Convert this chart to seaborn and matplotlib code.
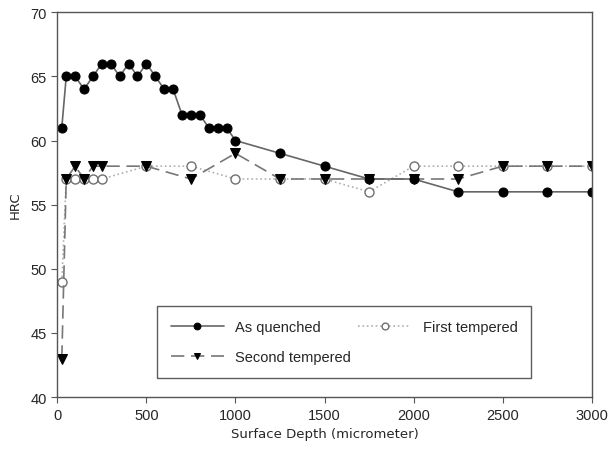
import numpy as np
import pandas as pd
import seaborn as sns
import matplotlib.pyplot as plt

sns.set_style('ticks')
plt.rcParams['font.family'] = ['Liberation Sans', 'DejaVu Sans']

# hardness readings (HRC) vs depth from surface (micrometer)
depth_aq = [25, 50, 100, 150, 200, 250, 300, 350, 400, 450, 500, 550, 600, 650, 700,
            750, 800, 850, 900, 950, 1000, 1250, 1500, 1750, 2000, 2250, 2500, 2750, 3000]
hrc_aq = [61, 65, 65, 64, 65, 66, 66, 65, 66, 65, 66, 65, 64, 64, 62,
          62, 62, 61, 61, 61, 60, 59, 58, 57, 57, 56, 56, 56, 56]

depth_t = [25, 50, 100, 150, 200, 250, 500, 750, 1000, 1250, 1500, 1750, 2000, 2250, 2500, 2750, 3000]
hrc_t1 = [49, 57, 57, 57, 57, 57, 58, 58, 57, 57, 57, 56, 58, 58, 58, 58, 58]
hrc_t2 = [43, 57, 58, 57, 58, 58, 58, 57, 59, 57, 57, 57, 57, 57, 58, 58, 58]

aq = pd.DataFrame({'depth': depth_aq, 'hrc': hrc_aq})
t1 = pd.DataFrame({'depth': depth_t, 'hrc': hrc_t1})
t2 = pd.DataFrame({'depth': depth_t, 'hrc': hrc_t2})

fig, ax = plt.subplots(figsize=(6.1, 4.56), dpi=100)
fig.subplots_adjust(left=0.094, right=0.970, top=0.971, bottom=0.127)

sns.lineplot(data=t1, x='depth', y='hrc', ax=ax, color='#b0b0b0', linestyle=':', lw=1.2,
             marker='o', markersize=6.5, markerfacecolor='white', markeredgecolor='#707070',
             markeredgewidth=1.0, label='First tempered')
sns.lineplot(data=t2, x='depth', y='hrc', ax=ax, color='#777777', linestyle=(0, (8, 4)), lw=1.2,
             marker='v', markersize=6.5, markerfacecolor='black', markeredgecolor='black',
             label='Second tempered')
sns.lineplot(data=aq, x='depth', y='hrc', ax=ax, color='#666666', lw=1.2,
             marker='o', markersize=6.5, markerfacecolor='black', markeredgecolor='black',
             label='As quenched')

ax.set_xlim(0, 3000)
ax.set_ylim(40, 70)
ax.set_xticks(np.arange(0, 3001, 500))
ax.set_yticks(np.arange(40, 71, 5))
ax.tick_params(labelsize=10.5, color='#555555', length=4)
for s in ax.spines.values():
    s.set_color('#555555')
    s.set_linewidth(1.0)

ax.set_xlabel('Surface Depth (micrometer)', family='DejaVu Sans', fontsize=9.5, labelpad=4)
ax.set_ylabel('HRC', family='DejaVu Sans', fontsize=9.5, labelpad=6)

h, l = ax.get_legend_handles_labels()
order = [2, 1, 0]
leg = ax.legend([h[i] for i in order], [l[i] for i in order], ncol=2,
                loc='lower left', bbox_to_anchor=(0.187, 0.049), borderaxespad=0,
                fontsize=10.5, frameon=True, fancybox=False, edgecolor='#333333',
                borderpad=0.95, handlelength=3.6, columnspacing=0.5, markerscale=0.75,
                labelspacing=1.1)
leg.get_frame().set_linewidth(1.0)

fig.savefig('out.png', dpi=100)
